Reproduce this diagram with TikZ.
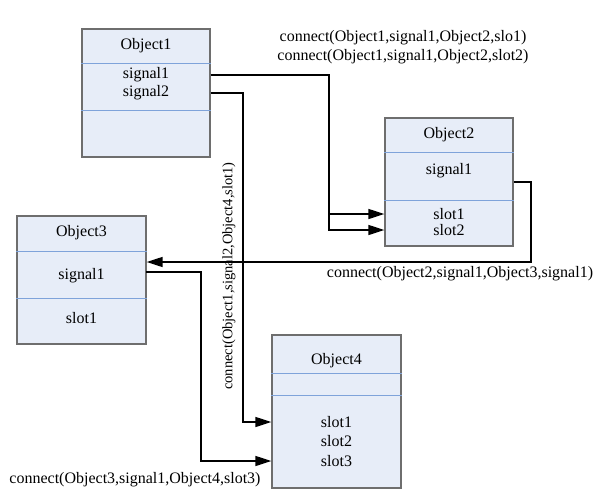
\documentclass[tikz,border=0pt]{standalone}
\usepackage{fontspec}
\setmainfont{Liberation Serif}
\usetikzlibrary{arrows.meta}

\definecolor{boxfill}{HTML}{E7EDF8}
\definecolor{boxline}{HTML}{6E6E6E}
\definecolor{divblue}{HTML}{7FA3DA}

\tikzset{
  objbox/.style={draw=boxline, fill=boxfill, line width=1.3pt, inner sep=0pt},
  divline/.style={divblue, line width=1pt},
  member/.style={font=\rmfamily\fontsize{16}{18}\selectfont, inner sep=0pt},
  lbl/.style={font=\rmfamily\fontsize{16}{19}\selectfont, align=center, inner sep=0pt},
  conn/.style={line width=1.4pt, -{Triangle[length=16pt,width=10pt]}},
}

\begin{document}
\begin{tikzpicture}[x=1pt,y=-1pt]
  \useasboundingbox (0,0) rectangle (600,501);

  % Object boxes
  \node[objbox, minimum width=128pt, minimum height=128pt] (obj1) at (146,93) {};
  \node[objbox, minimum width=128pt, minimum height=128pt] (obj2) at (449,182) {};
  \node[objbox, minimum width=129pt, minimum height=128pt] (obj3) at (81.5,280) {};
  \node[objbox, minimum width=129pt, minimum height=153pt] (obj4) at (336.5,411.5) {};

  % Dividers
  \draw[divline] (obj1.west |- 0,63) -- (obj1.east |- 0,63);
  \draw[divline] (obj1.west |- 0,110) -- (obj1.east |- 0,110);
  \draw[divline] (obj2.west |- 0,152) -- (obj2.east |- 0,152);
  \draw[divline] (obj2.west |- 0,200) -- (obj2.east |- 0,200);
  \draw[divline] (obj3.west |- 0,251) -- (obj3.east |- 0,251);
  \draw[divline] (obj3.west |- 0,298) -- (obj3.east |- 0,298);
  \draw[divline] (obj4.west |- 0,373) -- (obj4.east |- 0,373);
  \draw[divline] (obj4.west |- 0,395) -- (obj4.east |- 0,395);

  % Object1
  \node[member] (o1name) at (146,46) {Object1};
  \node[member] (o1sig1) at (146,75) {signal1};
  \node[member] (o1sig2) at (146,93) {signal2};
  % Object2
  \node[member] (o2name) at (449,135) {Object2};
  \node[member] (o2sig1) at (449,171) {signal1};
  \node[member] (o2slot1) at (449,214) {slot1};
  \node[member] (o2slot2) at (449,230) {slot2};
  % Object3
  \node[member] (o3name) at (81.5,233) {Object3};
  \node[member] (o3sig1) at (81.5,276) {signal1};
  \node[member] (o3slot1) at (81.5,318) {slot1};
  % Object4
  \node[member] (o4name) at (336.5,361) {Object4};
  \node[member] (o4slot1) at (336.5,422) {slot1};
  \node[member] (o4slot2) at (336.5,441) {slot2};
  \node[member] (o4slot3) at (336.5,461) {slot3};

  % Bend points
  \coordinate (bend1) at (329,0);
  \coordinate (bend2) at (243,0);
  \coordinate (bend3) at (201,0);
  \coordinate (r2) at (531,262);
  \coordinate (o3out) at (146,272);

  % Connections
  \draw[conn] (obj1.east |- o1sig1) -| (bend1 |- o2slot2) -- (obj2.west |- o2slot2);
  \draw[conn] (bend1 |- o2slot1) -- (obj2.west |- o2slot1);
  \draw[conn] (obj1.east |- o1sig2) -| (bend2 |- o4slot1) -- (obj4.west |- o4slot1);
  \draw[conn] (obj2.east) -| (r2) -- (obj3.east |- r2);
  \draw[conn] (o3out) -| (bend3 |- o4slot3) -- (obj4.west |- o4slot3);

  % Labels
  \node[lbl] (lab12) at (403,47) {connect(Object1,signal1,Object2,slo1)\\connect(Object1,signal1,Object2,slot2)};
  \node[lbl] (lab23) at (460,274) {connect(Object2,signal1,Object3,signal1)};
  \node[lbl, font=\rmfamily\fontsize{14.5}{17}\selectfont, rotate=90] (lab14) at (229,276) {connect(Object1,signal2,Object4,slot1)};
  \node[lbl] (lab34) at (135,480) {connect(Object3,signal1,Object4,slot3)};

\end{tikzpicture}
\end{document}
